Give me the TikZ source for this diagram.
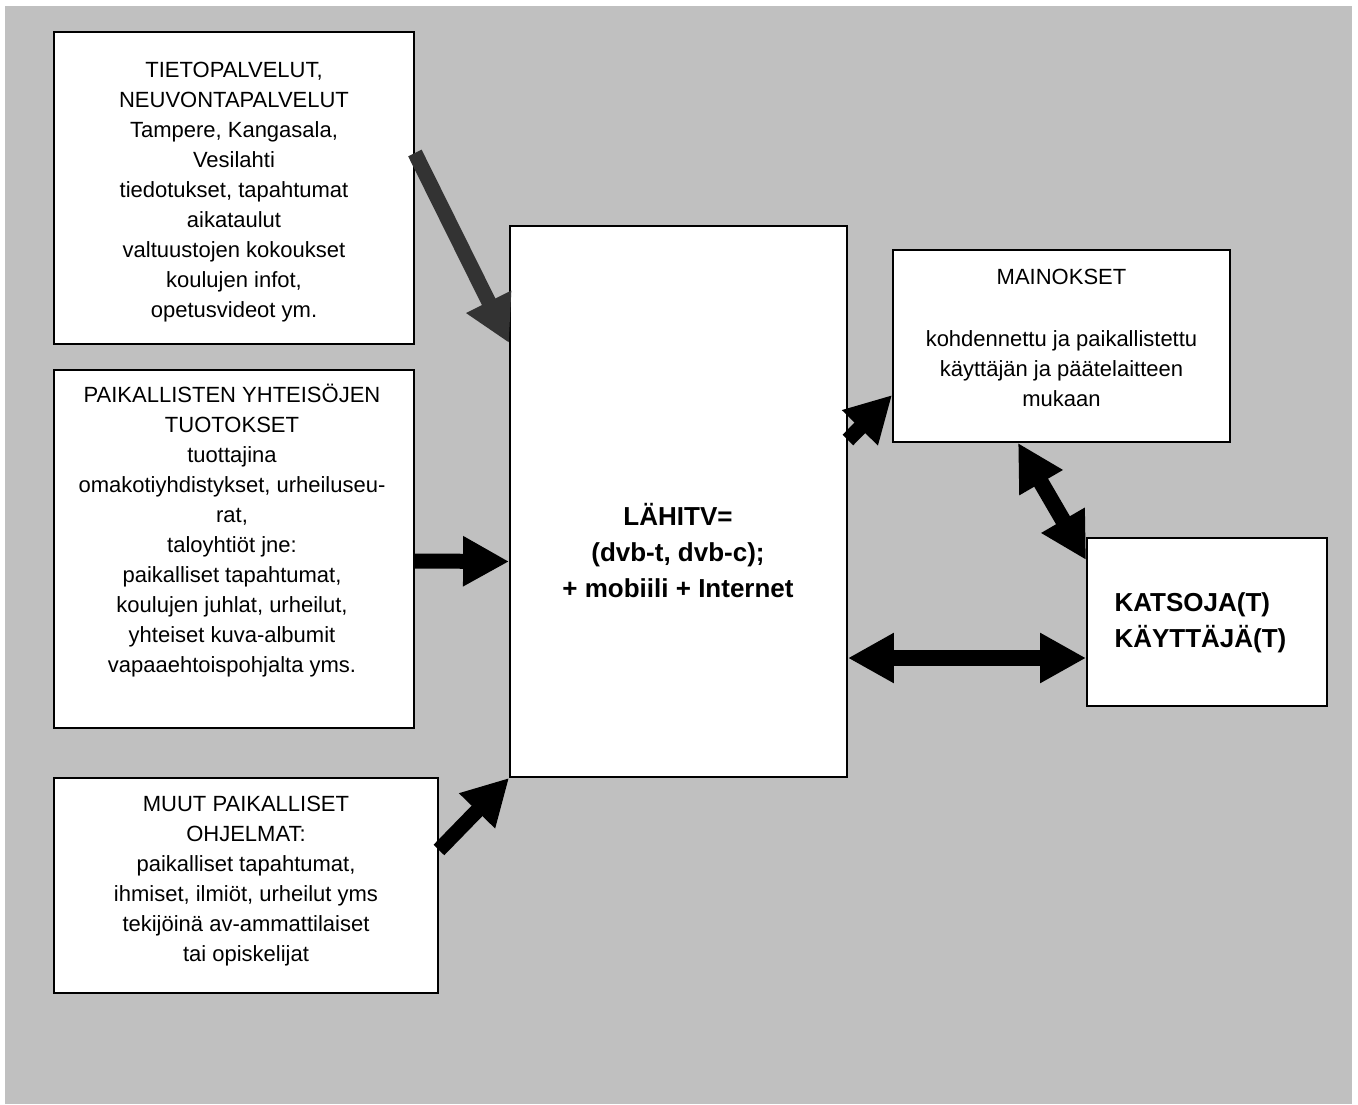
\documentclass[tikz,border=0pt]{standalone}
\usepackage{fontspec}
\setmainfont{Liberation Sans}
\usetikzlibrary{arrows.meta}
\definecolor{bggray}{HTML}{C0C0C0}
\definecolor{darkarrow}{HTML}{333333}
\tikzset{
    box/.style={draw=black, fill=white, line width=1.8pt, inner sep=0pt},
    txt/.style={align=center, font=\fontsize{22}{30}\selectfont},
    bigtxt/.style={align=center, font=\fontsize{26}{36}\selectfont\bfseries},
    fat/.style={line width=15pt, -{Triangle[length=46pt, width=47pt]}},
    twofat/.style={line width=16pt, {Triangle[length=46pt, width=47pt]}-{Triangle[length=46pt, width=47pt]}}
}

\begin{document}
\begin{tikzpicture}[x=1pt, y=-1pt]

    \useasboundingbox (0,0) rectangle (1358,1104);
    \fill[bggray] (5,6) rectangle (1352,1104);

    % boxes
    \node[box, minimum width=360pt, minimum height=312pt] (info) at (234,188) {};
    \node[box, minimum width=360pt, minimum height=358pt] (local) at (234,549) {};
    \node[box, minimum width=384pt, minimum height=215pt] (other) at (246,885.5) {};
    \node[box, minimum width=337pt, minimum height=551pt] (tv) at (678.5,501.5) {};
    \node[box, minimum width=337pt, minimum height=192pt] (ads) at (1061.5,346) {};
    \node[box, minimum width=240pt, minimum height=168pt] (viewer) at (1207,622) {};

    % texts
    \node[txt] (info text) at (234,192) {TIETOPALVELUT,\\ NEUVONTAPALVELUT\\ Tampere, Kangasala,\\ Vesilahti\\ tiedotukset, tapahtumat\\ aikataulut\\ valtuustojen kokoukset\\ koulujen infot,\\ opetusvideot ym.};
    \node[txt] (local text) at (232,531) {PAIKALLISTEN YHTEISÖJEN\\ TUOTOKSET\\ tuottajina\\ omakotiyhdistykset, urheiluseu-\\ rat,\\ taloyhtiöt jne:\\ paikalliset tapahtumat,\\ koulujen juhlat, urheilut,\\ yhteiset kuva-albumit\\ vapaaehtoispohjalta yms.};
    \node[txt] (other text) at (246,881) {MUUT PAIKALLISET\\ OHJELMAT:\\ paikalliset tapahtumat,\\ ihmiset, ilmiöt, urheilut yms\\ tekijöinä av-ammattilaiset\\ tai opiskelijat};
    \node[bigtxt] (tv text) at (678,551) {LÄHITV=\\ (dvb-t, dvb-c);\\ + mobiili + Internet};
    \node[txt] (ads text) at (1061.5,338) {MAINOKSET\\[32pt] kohdennettu ja paikallistettu\\ käyttäjän ja päätelaitteen\\ mukaan};
    \node[bigtxt, align=left, anchor=west] (viewer text) at (1111,623) {KATSOJA(T)\\ KÄYTTÄJÄ(T)};

    % arrows
    \draw[fat, draw=darkarrow] ([yshift=35pt]info.east) -- ([yshift=158.5pt]tv.west);
    \draw[fat] ([yshift=-12pt]local.east) -- ([yshift=-60pt]tv.west);
    \draw[fat] ([yshift=35.5pt]other.east) -- (tv.south west);
    \draw[fat] ([yshift=61.5pt]tv.east) -- ([yshift=-49pt]ads.west);
    \draw[twofat] ([xshift=-43.5pt]ads.south) -- ([yshift=62pt]viewer.west);
    \draw[twofat] ([yshift=-156.5pt]tv.east) -- ([yshift=-36pt]viewer.west);

\end{tikzpicture}
\end{document}
